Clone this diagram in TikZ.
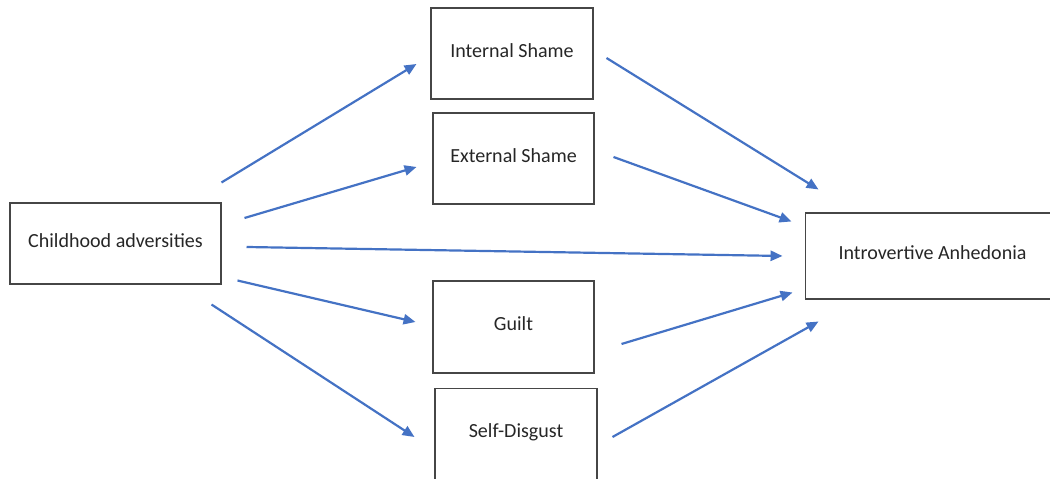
\documentclass[tikz,border=0pt]{standalone}
\usepackage{fontspec}
\setmainfont{Carlito}
\usepackage{tikz}
\usetikzlibrary{arrows.meta, positioning, calc}
\definecolor{officeblue}{RGB}{68,114,196}
\definecolor{boxline}{RGB}{70,70,70}
\definecolor{boxtext}{RGB}{38,38,38}

\begin{document}
\begin{tikzpicture}[x=0.02cm, y=0.02cm,
		box/.style={draw=boxline, line width=0.6pt, rectangle, inner sep=0pt, text height=0.7em, text depth=0.3em, text=boxtext, font=\fontsize{11.4}{13}\selectfont},
		link/.style={draw=officeblue, line width=1.25pt, -{Triangle[length=6.8pt,width=5.8pt]}}]
			\clip (0,0) rectangle (1050,479);
			\node[box, minimum width=4.22cm, minimum height=1.62cm] (child) at (115.5,235.5) {Childhood adversities};
			\node[box, minimum width=3.24cm, minimum height=1.82cm] (intshame) at (512,425.5) {Internal Shame};
			\node[box, minimum width=3.22cm, minimum height=1.82cm] (extshame) at (513.5,320.5) {External Shame};
			\node[box, minimum width=3.22cm, minimum height=1.84cm] (guilt) at (513.5,152) {Guilt};
			\node[box, minimum width=3.24cm, minimum height=1.82cm] (disgust) at (516,45) {Self-Disgust};
			\node[box, minimum width=5.10cm, minimum height=1.72cm] (anhedonia) at (932.5,223) {Introvertive Anhedonia};
			% paths from childhood adversities
			\draw[link] ($(child.north east)+(0,20)$) -- ($(intshame.west)+(-14,-10.5)$);
			\draw[link] ($(child.east)+(23,25.5)$) -- ($(extshame.west)+(-16,-8.5)$);
			\draw[link] ($(child.east)+(25,-3.5)$) -- ($(anhedonia.west)+(-22,0)$);
			\draw[link] ($(child.south east)+(16,4)$) -- ($(guilt.west)+(-17,5)$);
			\draw[link] ($(child.south east)+(-10,-20)$) -- ($(disgust.west)+(-20,-3)$);
			% paths to introvertive anhedonia
			\draw[link] ($(intshame.east)+(13,-4.5)$) -- ($(anhedonia.north west)+(14,23)$);
			\draw[link] ($(extshame.east)+(19,1.5)$) -- ($(anhedonia.north west)+(-13,-9)$);
			\draw[link] ($(guilt.east)+(27,-17)$) -- ($(anhedonia.south west)+(-12,7)$);
			\draw[link] ($(disgust.east)+(15,-3)$) -- ($(anhedonia.south west)+(14,-22)$);
		\end{tikzpicture}
\end{document}
